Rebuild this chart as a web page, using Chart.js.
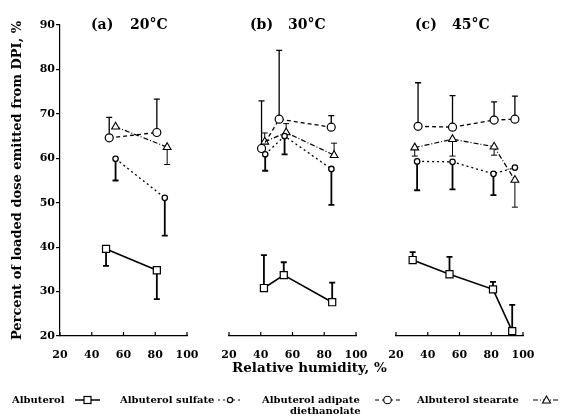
<!DOCTYPE html>
<html><head><meta charset="utf-8">
<script src="https://cdn.jsdelivr.net/npm/chart.js@4.4.0/dist/chart.umd.min.js"></script>
<style>
html,body{margin:0;padding:0;background:#fff;}
#wrap{position:relative;width:562px;height:416px;overflow:hidden;font-family:"DejaVu Serif",serif;font-weight:bold;color:#000;}
#wrap canvas{position:absolute;left:0;top:0;width:562px;height:416px;}
.t{position:absolute;white-space:nowrap;line-height:1;}
.ttl{font-size:14px;}
.lg{font-size:10px;}
.s{position:absolute;}
</style></head><body>
<div id="wrap">
<canvas id="cA" width="562" height="416"></canvas>
<canvas id="cB" width="562" height="416"></canvas>
<canvas id="cC" width="562" height="416"></canvas>
<div class="t ttl" style="left:91px;top:17px">(a)</div><div class="t ttl" style="left:130px;top:17px">20°C</div>
<div class="t ttl" style="left:250px;top:17px">(b)</div><div class="t ttl" style="left:288px;top:17px">30°C</div>
<div class="t ttl" style="left:415px;top:17px">(c)</div><div class="t ttl" style="left:452px;top:17px">45°C</div>
<div class="t" style="left:232px;top:361px;font-size:13.5px">Relative humidity, %</div>
<div class="t lg" style="left:12px;top:395px">Albuterol</div>
<svg class="s" style="left:75px;top:395px" width="25" height="10"><line x1="0" y1="5" x2="25" y2="5" stroke="#000" stroke-width="1.5"/><rect x="9" y="1.5" width="7" height="7" fill="#fff" stroke="#000" stroke-width="1.2"/></svg>
<div class="t lg" style="left:120px;top:395px">Albuterol sulfate</div>
<svg class="s" style="left:218px;top:395px" width="24" height="10"><line x1="0" y1="5" x2="24" y2="5" stroke="#000" stroke-width="1.2" stroke-dasharray="2,3"/><circle cx="12" cy="5" r="2.6" fill="#fff" stroke="#000" stroke-width="1.2"/></svg>
<div class="t lg" style="left:262px;top:395px">Albuterol adipate</div>
<div class="t lg" style="left:290px;top:406px">diethanolate</div>
<svg class="s" style="left:375px;top:395px" width="25" height="10"><line x1="0" y1="5" x2="25" y2="5" stroke="#000" stroke-width="1.2" stroke-dasharray="4,3"/><circle cx="12.5" cy="5" r="3.8" fill="#fff" stroke="#000" stroke-width="1.1"/></svg>
<div class="t lg" style="left:417px;top:395px">Albuterol stearate</div>
<svg class="s" style="left:533px;top:395px" width="27" height="10"><line x1="0" y1="5" x2="27" y2="5" stroke="#000" stroke-width="1.2" stroke-dasharray="5,2,1,2"/><polygon points="13.5,1 17.5,8 9.5,8" fill="#fff" stroke="#000" stroke-width="1.1"/></svg>
</div>
<script>
// ---- data ----
const seriesNames = ['Albuterol', 'Albuterol sulfate', 'Albuterol adipate diethanolate', 'Albuterol stearate'];
const xTicks = [20, 40, 60, 80, 100];
const yTicks = [20, 30, 40, 50, 60, 70, 80, 90];
const yTitle = 'Percent of loaded dose emitted from DPI, %';

// (a) 20°C
const a_albuterol_rh = [49, 81];
const a_albuterol = [39.6, 34.8];
const a_albuterol_err = [35.8, 28.3];
const a_sulfate_rh = [55, 86];
const a_sulfate = [59.9, 51.1];
const a_sulfate_err = [55.0, 42.6];
const a_adipate_rh = [51, 81];
const a_adipate = [64.6, 65.8];
const a_adipate_err = [69.2, 73.3];
const a_stearate_rh = [55, 87.5];
const a_stearate = [67.1, 62.5];
const a_stearate_err = [null, 58.6];

// (b) 30°C
const b_albuterol_rh = [42, 54.5, 85];
const b_albuterol = [30.8, 33.7, 27.6];
const b_albuterol_err = [38.2, 36.6, 32.0];
const b_sulfate_rh = [42.8, 55, 84.5];
const b_sulfate = [60.9, 65.0, 57.6];
const b_sulfate_err = [57.2, 60.9, 49.5];
const b_adipate_rh = [40.5, 51.6, 84.4];
const b_adipate = [62.2, 68.8, 67.0];
const b_adipate_err = [72.9, 84.3, 69.6];
const b_stearate_rh = [42.5, 56, 86.2];
const b_stearate = [63.7, 65.8, 60.7];
const b_stearate_err = [65.7, 67.8, 63.4];

// (c) 45°C
const c_albuterol_rh = [30.5, 53.7, 81.1, 93.2];
const c_albuterol = [37.1, 33.9, 30.5, 21.1];
const c_albuterol_err = [38.9, 37.8, 32.2, 27.0];
const c_sulfate_rh = [33.3, 55.6, 81.4, 94.9];
const c_sulfate = [59.3, 59.2, 56.5, 57.9];
const c_sulfate_err = [52.8, 53.0, 51.7, null];
const c_adipate_rh = [33.9, 55.6, 81.8, 94.9];
const c_adipate = [67.2, 67.0, 68.6, 68.8];
const c_adipate_err = [77.0, 74.1, 72.7, 74.0];
const c_stearate_rh = [31.8, 55.6, 81.8, 94.9];
const c_stearate = [62.4, 64.3, 62.6, 55.1];
const c_stearate_err = [60.5, 60.5, 60.7, 49.0];

// ---- styles ----
const styles = [
  {borderWidth: 1.6, borderDash: [], pointStyle: 'rect', pointRadius: 5, pointBorderWidth: 1.2, errWidth: 1.8},
  {borderWidth: 1.3, borderDash: [2, 3], pointStyle: 'circle', pointRadius: 2.7, pointBorderWidth: 1.3, errWidth: 1.8},
  {borderWidth: 1.3, borderDash: [4, 3], pointStyle: 'circle', pointRadius: 4, pointBorderWidth: 1.2, errWidth: 1.3},
  {borderWidth: 1.2, borderDash: [5, 2, 1, 2], pointStyle: 'triangle', pointRadius: 4.5, pointBorderWidth: 1.1, errWidth: 1.0}
];

function ds(i, rh, vals, err) {
  const st = styles[i];
  return {
    label: seriesNames[i],
    data: rh.map((x, k) => ({x: x, y: vals[k]})),
    errTo: err,
    errWidth: st.errWidth,
    showLine: true,
    borderColor: '#000',
    backgroundColor: '#fff',
    borderWidth: st.borderWidth,
    borderDash: st.borderDash,
    pointStyle: st.pointStyle,
    pointRadius: st.pointRadius,
    pointHoverRadius: st.pointRadius,
    pointBorderWidth: st.pointBorderWidth,
    pointBackgroundColor: '#fff',
    pointBorderColor: '#000',
    tension: 0,
    fill: false
  };
}

const errorBars = {
  id: 'errorBars',
  beforeDatasetsDraw(chart) {
    const ctx = chart.ctx, xs = chart.scales.x, ys = chart.scales.y;
    chart.data.datasets.forEach(d => {
      if (!d.errTo) return;
      ctx.save();
      ctx.strokeStyle = '#000';
      ctx.lineWidth = d.errWidth;
      ctx.setLineDash([]);
      d.data.forEach((p, k) => {
        const e = d.errTo[k];
        if (e == null) return;
        const px = xs.getPixelForValue(p.x), py = ys.getPixelForValue(p.y), pe = ys.getPixelForValue(e);
        ctx.beginPath();
        ctx.moveTo(px, py); ctx.lineTo(px, pe);
        ctx.moveTo(px - 3, pe); ctx.lineTo(px + 3, pe);
        ctx.stroke();
      });
      ctx.restore();
    });
  }
};

const innerTicks = {
  id: 'innerTicks',
  afterDraw(chart) {
    const ctx = chart.ctx, xs = chart.scales.x, b = chart.chartArea.bottom;
    ctx.save();
    ctx.strokeStyle = '#000';
    ctx.lineWidth = 1.2;
    xs.ticks.forEach(t => {
      const px = xs.getPixelForValue(t.value);
      ctx.beginPath(); ctx.moveTo(px, b); ctx.lineTo(px, b - 4); ctx.stroke();
    });
    ctx.restore();
  }
};

const tickFont = {family: 'DejaVu Serif', weight: 'bold', size: 11};

function makeChart(id, datasets, pad, showY) {
  return new Chart(document.getElementById(id), {
    type: 'scatter',
    data: {datasets: datasets},
    options: {
      responsive: false,
      animation: false,
      layout: {padding: pad},
      plugins: {legend: {display: false}, tooltip: {enabled: false}},
      scales: {
        x: {
          type: 'linear', min: 20, max: 100,
          grid: {display: false},
          border: {display: true, color: '#000', width: 1.2},
          afterBuildTicks(s) { s.ticks = xTicks.map(v => ({value: v})); },
          ticks: {color: '#000', font: tickFont, padding: 5, maxRotation: 0, autoSkip: false},
          afterFit(s) { s.height = 24; }
        },
        y: {
          display: showY,
          type: 'linear', min: 20, max: 90,
          grid: {display: true, drawOnChartArea: false, drawTicks: true, tickLength: 4, color: '#000', lineWidth: 1.2},
          border: {display: true, color: '#000', width: 1.2},
          afterBuildTicks(s) { s.ticks = yTicks.map(v => ({value: v})); },
          ticks: {color: '#000', font: tickFont, padding: 1, autoSkip: false},
          title: {display: true, text: yTitle, color: '#000', font: {family: 'DejaVu Serif', weight: 'bold', size: 13}, padding: {top: 10, bottom: 0}},
          afterFit(s) { s.width = showY ? 60 : 0; }
        }
      }
    },
    plugins: [errorBars, innerTicks]
  });
}

makeChart('cA', [
  ds(0, a_albuterol_rh, a_albuterol, a_albuterol_err),
  ds(1, a_sulfate_rh, a_sulfate, a_sulfate_err),
  ds(2, a_adipate_rh, a_adipate, a_adipate_err),
  ds(3, a_stearate_rh, a_stearate, a_stearate_err)
], {left: 0, right: 375, top: 25, bottom: 56}, true);

makeChart('cB', [
  ds(0, b_albuterol_rh, b_albuterol, b_albuterol_err),
  ds(1, b_sulfate_rh, b_sulfate, b_sulfate_err),
  ds(2, b_adipate_rh, b_adipate, b_adipate_err),
  ds(3, b_stearate_rh, b_stearate, b_stearate_err)
], {left: 229, right: 206, top: 25, bottom: 56}, false);

makeChart('cC', [
  ds(0, c_albuterol_rh, c_albuterol, c_albuterol_err),
  ds(1, c_sulfate_rh, c_sulfate, c_sulfate_err),
  ds(2, c_adipate_rh, c_adipate, c_adipate_err),
  ds(3, c_stearate_rh, c_stearate, c_stearate_err)
], {left: 396, right: 39, top: 25, bottom: 56}, false);
</script>
</body></html>
